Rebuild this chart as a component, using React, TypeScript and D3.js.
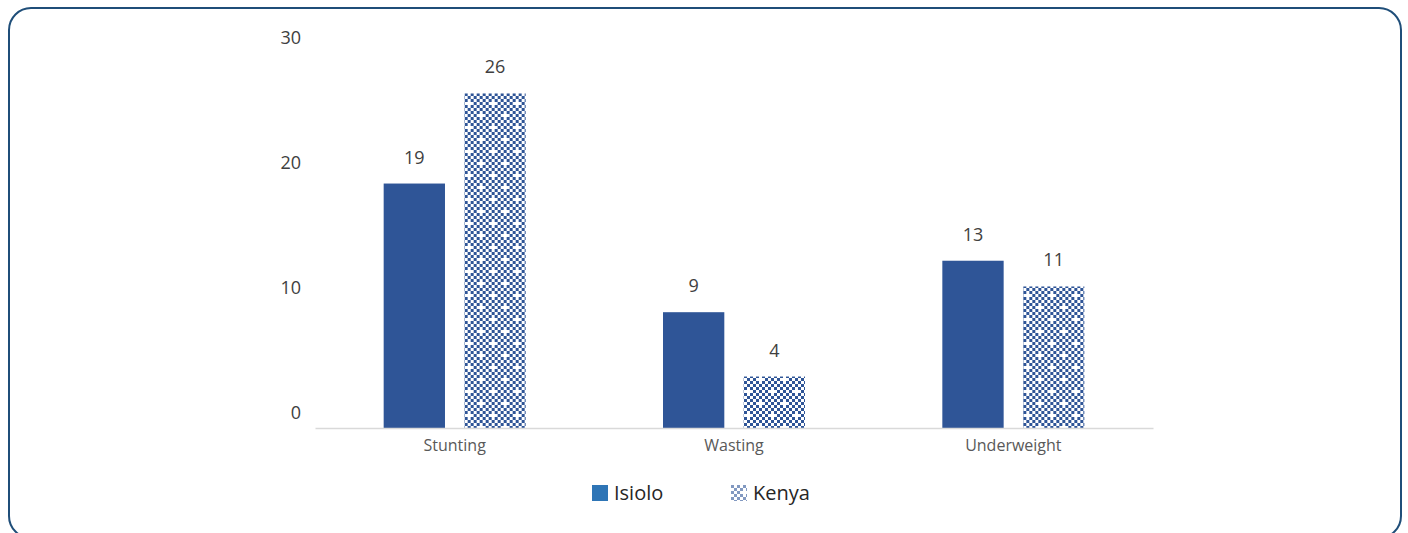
import { useRef, useEffect } from "react";
import { select, scaleLinear, scaleBand, axisLeft, axisBottom } from "d3";

const categories = ["Stunting", "Wasting", "Underweight"];
const series = ["Isiolo", "Kenya"];
const isiolo = [19, 9, 13];
const kenya = [26, 4, 11];
const yTicks = [0, 10, 20, 30];

const W = 1408;
const H = 533;

export default function App() {
  const ref = useRef<SVGSVGElement | null>(null);

  useEffect(() => {
    const svg = select(ref.current!);
    svg.selectAll("*").remove();

    // pattern for Kenya bars: small checkerboard with white specks
    const defs = svg.append("defs");
    const pat = defs
      .append("pattern")
      .attr("id", "checker")
      .attr("patternUnits", "userSpaceOnUse")
      .attr("width", 24)
      .attr("height", 24);
    pat.append("rect").attr("width", 24).attr("height", 24).attr("fill", "#ffffff");
    for (let r = 0; r < 8; r++) {
      for (let c = 0; c < 8; c++) {
        if ((r + c) % 2 === 0) {
          const speck = (r === 2 && c === 4) || (r === 6 && c === 0);
          if (!speck)
            pat.append("rect").attr("x", c * 3).attr("y", r * 3).attr("width", 3).attr("height", 3).attr("fill", "#2f5597");
        }
      }
    }

    // frame
    svg
      .append("rect")
      .attr("x", 9)
      .attr("y", 8)
      .attr("width", 1392)
      .attr("height", 530)
      .attr("rx", 22)
      .attr("fill", "white")
      .attr("stroke", "#1f4e79")
      .attr("stroke-width", 2);

    //scales
    const x = scaleBand().domain(categories).range([315, 1153]);
    const x1 = scaleBand().domain(series).range([0, 142]).paddingInner(0.24);
    const y = scaleLinear().domain([0, 30]).range([428, 42]);
    const yLab = scaleLinear().domain([0, 30]).range([413, 38]);

    // y axis labels only
    const ya: any = axisLeft(yLab).tickValues(yTicks).tickSize(0).tickPadding(0);
    const gy = svg.append("g").attr("transform", "translate(301,0)").call(ya);
    gy.select(".domain").remove();
    gy.selectAll("text")
      .attr("font-family", "'Open Sans', sans-serif")
      .attr("font-size", 18)
      .attr("fill", "#404040");

    // bars
    const off = (x.bandwidth() - 142) / 2;
    const groups = svg
      .selectAll(".grp")
      .data(categories)
      .join("g")
      .attr("class", "grp")
      .attr("transform", (d) => `translate(${x(d)! + off},0)`);

    const vals = [isiolo, kenya];
    series.forEach((s, si) => {
      groups
        .append("rect")
        .attr("x", x1(s)!)
        .attr("y", (_, i) => y(vals[si][i]))
        .attr("width", x1.bandwidth())
        .attr("height", (_, i) => 428 - y(vals[si][i]))
        .attr("fill", si === 0 ? "#2f5597" : "url(#checker)");
      groups
        .append("text")
        .attr("x", x1(s)! + x1.bandwidth() / 2)
        .attr("y", (_, i) => y(vals[si][i]) - 20)
        .attr("text-anchor", "middle")
        .attr("font-family", "'Open Sans', sans-serif")
        .attr("font-size", 18)
        .attr("fill", "#404040")
        .text((_, i) => vals[si][i]);
    });

    // x axis
    const xa: any = axisBottom(x).tickSize(0).tickPadding(12);
    const gx = svg.append("g").attr("transform", "translate(0,428)").call(xa);
    gx.select(".domain").attr("stroke", "#d9d9d9").attr("stroke-width", 1.5);
    gx.selectAll("text")
      .attr("font-family", "'Open Sans', sans-serif")
      .attr("font-size", 16)
      .attr("fill", "#595959");

    // legend
    const lg = svg.append("g").attr("transform", "translate(592,485)");
    const items = lg
      .selectAll("g")
      .data(series)
      .join("g")
      .attr("transform", (_, i) => `translate(${i * 139},0)`);
    items
      .append("rect")
      .attr("width", 16)
      .attr("height", 16)
      .attr("fill", (_, i) => (i === 0 ? "#2e75b6" : "url(#checker)"))
      .attr("opacity", (_, i) => (i === 0 ? 1 : 0.6));
    items
      .append("text")
      .attr("x", 22)
      .attr("y", 15)
      .attr("font-family", "'Open Sans', sans-serif")
      .attr("font-size", 20)
      .attr("fill", "#262626")
      .text((d) => d);
  }, []);

  return (
    <svg
      ref={ref}
      width={W}
      height={H}
      style={{ position: "absolute", left: 0, top: 0 }}
    ></svg>
  );
}
